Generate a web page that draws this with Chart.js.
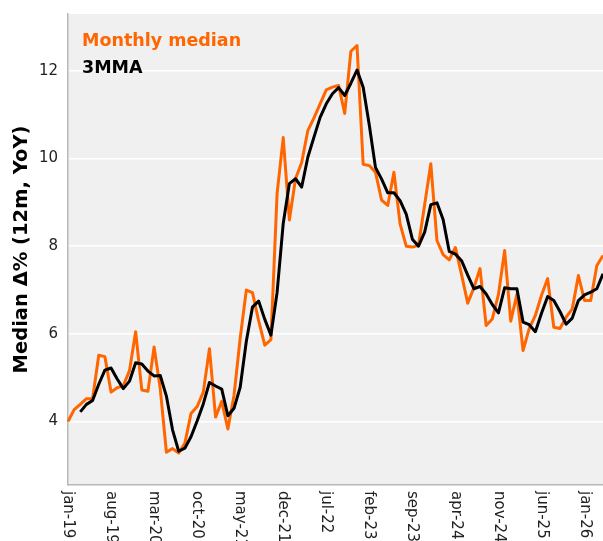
<!DOCTYPE html>
<html>
<head>
<meta charset="utf-8">
<script src="https://cdn.jsdelivr.net/npm/chart.js@4"></script>
<style>
  html, body { margin: 0; padding: 0; background: #fff; overflow: hidden; }
  #wrap { width: 603px; height: 541px; }
</style>
</head>
<body>
<div id="wrap"><canvas id="myChart" width="603" height="541"></canvas></div>
<script>
// months jan-19 .. apr-26
var categories = [
  'jan-19','feb-19','mar-19','apr-19','may-19','jun-19','jul-19','aug-19','sep-19','oct-19','nov-19','dec-19',
  'jan-20','feb-20','mar-20','apr-20','may-20','jun-20','jul-20','aug-20','sep-20','oct-20','nov-20','dec-20',
  'jan-21','feb-21','mar-21','apr-21','may-21','jun-21','jul-21','aug-21','sep-21','oct-21','nov-21','dec-21',
  'jan-22','feb-22','mar-22','apr-22','may-22','jun-22','jul-22','aug-22','sep-22','oct-22','nov-22','dec-22',
  'jan-23','feb-23','mar-23','apr-23','may-23','jun-23','jul-23','aug-23','sep-23','oct-23','nov-23','dec-23',
  'jan-24','feb-24','mar-24','apr-24','may-24','jun-24','jul-24','aug-24','sep-24','oct-24','nov-24','dec-24',
  'jan-25','feb-25','mar-25','apr-25','may-25','jun-25','jul-25','aug-25','sep-25','oct-25','nov-25','dec-25',
  'jan-26','feb-26','mar-26','apr-26'
];

var monthly = [
  4.00, 4.27, 4.39, 4.52, 4.52, 5.51, 5.48, 4.67, 4.77, 4.82, 5.16, 6.05,
  4.72, 4.69, 5.70, 4.75, 3.30, 3.38, 3.28, 3.50, 4.18, 4.34, 4.67, 5.66,
  4.10, 4.46, 3.83, 4.60, 5.90, 7.00, 6.94, 6.30, 5.74, 5.87, 9.20, 10.48,
  8.60, 9.54, 9.91, 10.64, 10.93, 11.25, 11.57, 11.63, 11.67, 11.03, 12.45, 12.58,
  9.87, 9.84, 9.69, 9.05, 8.93, 9.69, 8.51, 8.00, 7.98, 8.02, 8.95, 9.88,
  8.13, 7.81, 7.69, 7.97, 7.35, 6.70, 7.05, 7.49, 6.19, 6.34, 6.90, 7.90,
  6.29, 6.90, 5.62, 6.12, 6.42, 6.88, 7.26, 6.15, 6.12, 6.38, 6.57, 7.33,
  6.76, 6.76, 7.56, 7.79
];

var mma3 = [
  null, null, 4.22, 4.39, 4.48, 4.85, 5.17, 5.22, 4.97, 4.75, 4.92, 5.34,
  5.31, 5.15, 5.04, 5.05, 4.58, 3.81, 3.32, 3.39, 3.65, 4.01, 4.40, 4.89,
  4.81, 4.74, 4.13, 4.30, 4.78, 5.83, 6.61, 6.75, 6.33, 5.97, 6.94, 8.52,
  9.43, 9.54, 9.35, 10.03, 10.49, 10.94, 11.25, 11.48, 11.62, 11.44, 11.72, 12.02,
  11.63, 10.76, 9.80, 9.53, 9.22, 9.22, 9.04, 8.73, 8.16, 8.00, 8.32, 8.95,
  8.99, 8.61, 7.88, 7.82, 7.67, 7.34, 7.03, 7.08, 6.91, 6.67, 6.48, 7.05,
  7.03, 7.03, 6.27, 6.21, 6.05, 6.47, 6.85, 6.76, 6.51, 6.22, 6.36, 6.76,
  6.89, 6.95, 7.03, 7.37
];

var tickLabels = ['jan-19','aug-19','mar-20','oct-20','may-21','dec-21','jul-22',
  'feb-23','sep-23','apr-24','nov-24','jun-25','jan-26'];
var yTicks = [4, 6, 8, 10, 12];

var ORANGE = '#ff6600';

Chart.defaults.font.family = '"DejaVu Sans", sans-serif';

var plotBg = {
  id: 'plotBg',
  beforeDraw: function (chart) {
    var a = chart.chartArea, c = chart.ctx;
    c.save();
    c.fillStyle = '#f0f0f0';
    c.fillRect(a.left, a.top, a.right - a.left, a.bottom - a.top);
    c.restore();
  }
};

// x labels read top-to-bottom, and the text legend in the corner
var extras = {
  id: 'extras',
  afterDraw: function (chart) {
    var c = chart.ctx, xs = chart.scales.x, a = chart.chartArea;
    c.save();
    c.font = '15px "DejaVu Sans"';
    c.fillStyle = '#222';
    c.textAlign = 'left';
    c.textBaseline = 'middle';
    tickLabels.forEach(function (lab) {
      var px = xs.getPixelForValue(categories.indexOf(lab));
      c.save();
      c.translate(px, a.bottom + 6);
      c.rotate(Math.PI / 2);
      c.fillText(lab, 0, 0);
      c.restore();
    });
    c.font = 'bold 17.5px "DejaVu Sans"';
    c.textBaseline = 'alphabetic';
    c.fillStyle = ORANGE;
    c.fillText('Monthly median', a.left + 14, 46);
    c.fillStyle = '#000';
    c.fillText('3MMA', a.left + 14, 73);
    c.restore();
  }
};

var ctx = document.getElementById('myChart').getContext('2d');
var chart = new Chart(ctx, {
  type: 'line',
  data: {
    labels: categories,
    datasets: [
      {
        label: '3MMA',
        data: mma3,
        borderColor: '#000',
        borderWidth: 3,
        pointRadius: 0,
        tension: 0,
        borderJoinStyle: 'round',
        order: 0
      },
      {
        label: 'Monthly median',
        data: monthly,
        borderColor: ORANGE,
        borderWidth: 3,
        pointRadius: 0,
        tension: 0,
        borderJoinStyle: 'round',
        order: 1
      }
    ]
  },
  options: {
    responsive: false,
    animation: false,
    layout: { padding: { top: 14, left: 0, right: 0, bottom: 0 } },
    plugins: { legend: { display: false }, tooltip: { enabled: false } },
    scales: {
      x: {
        offset: false,
        grid: { display: false },
        border: { color: '#b8b8b8', width: 1.5 },
        ticks: { display: false },
        afterFit: function (s) { s.height = 56; s.paddingLeft = 0; s.paddingRight = 0; }
      },
      y: {
        min: 2.55,
        max: 13.3,
        grid: { color: '#ffffff', lineWidth: 1.5, drawTicks: false },
        border: { color: '#b8b8b8', width: 1.5 },
        ticks: { color: '#222', font: { size: 15 }, padding: 10 },
        afterBuildTicks: function (s) {
          s.ticks = yTicks.map(function (v) { return { value: v }; });
        },
        afterFit: function (s) { s.width = 68; s.paddingTop = 0; s.paddingBottom = 0; },
        title: {
          display: true,
          text: 'Median Δ% (12m, YoY)',
          color: '#000',
          font: { size: 19.5, weight: 'bold' },
          padding: { top: 10, bottom: 0 }
        }
      }
    }
  },
  plugins: [plotBg, extras]
});
</script>
</body>
</html>
